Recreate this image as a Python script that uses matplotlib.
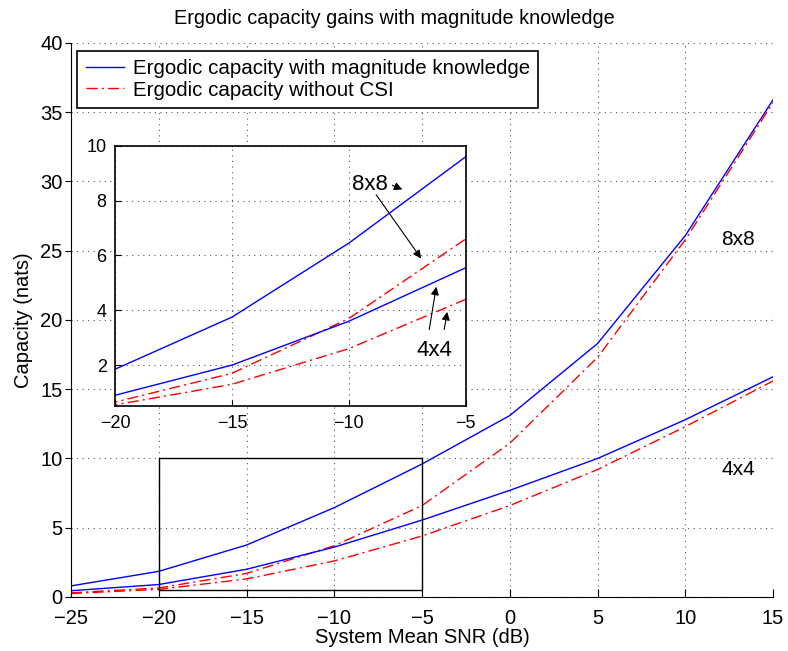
import matplotlib
matplotlib.use('Agg')
import matplotlib.pyplot as plt
import numpy as np

plt.rcParams['font.family'] = ['Liberation Sans', 'DejaVu Sans']

# SNR points (dB)
snr = [-25, -20, -15, -10, -5, 0, 5, 10, 15]
# 8x8 system
cap8_mag = [0.8, 1.85, 3.75, 6.45, 9.6, 13.1, 18.3, 26.1, 35.9]
cap8_nocsi = [0.3, 0.65, 1.7, 3.7, 6.6, 11.1, 17.3, 25.8, 35.7]
# 4x4 system
cap4_mag = [0.45, 0.9, 2.0, 3.6, 5.55, 7.7, 10.0, 12.8, 15.9]
cap4_nocsi = [0.25, 0.55, 1.3, 2.6, 4.4, 6.6, 9.2, 12.3, 15.6]

xticks = [-25, -20, -15, -10, -5, 0, 5, 10, 15]
yticks = [0, 5, 10, 15, 20, 25, 30, 35, 40]
inset_xticks = [-20, -15, -10, -5]
inset_yticks = [2, 4, 6, 8, 10]

dashdot = (0, (8, 3, 1.5, 3))
grid_ls = (0, (1, 4))

def minus(ticks):
    return [str(t).replace('-', '\u2212') for t in ticks]

fig = plt.figure(figsize=(7.88, 6.51), dpi=100)
ax = fig.add_axes([0.0901, 0.083, 0.891, 0.851])

ax.plot(snr, cap8_mag, color='blue', lw=1, label='Ergodic capacity with magnitude knowledge')
ax.plot(snr, cap8_nocsi, color='red', lw=1, linestyle=dashdot, label='Ergodic capacity without CSI')
ax.plot(snr, cap4_mag, color='blue', lw=1)
ax.plot(snr, cap4_nocsi, color='red', lw=1, linestyle=dashdot)
ax.set_xlim(-25, 15)
ax.set_ylim(0, 40)
ax.set_xticks(xticks)
ax.set_yticks(yticks)
ax.set_xticklabels(minus(xticks))
ax.tick_params(axis='x', direction='in', length=6, labelsize=14.5, pad=9)
ax.tick_params(axis='y', direction='out', length=4, labelsize=14.5, pad=2)
ax.grid(True, linestyle=grid_ls, color='0.35', linewidth=0.8)
ax.spines['top'].set_visible(False)
ax.spines['right'].set_visible(False)
ax.set_xlabel('System Mean SNR (dB)', fontsize=14.5, labelpad=0)
ax.set_ylabel('Capacity (nats)', fontsize=14.5, labelpad=5)
fig.text(0.5, 1 - 18 / 651, 'Ergodic capacity gains with magnitude knowledge',
         fontsize=14.3, ha='center', va='center')
ax.plot([-20, -5, -5, -20, -20], [0.5, 0.5, 10, 10, 0.5], color='black', lw=1)
ax.text(13.0, 25.8, '8x8', fontsize=15, ha='center', va='center')
ax.text(13.0, 9.2, '4x4', fontsize=15, ha='center', va='center')

leg = ax.legend(loc='upper left', fontsize=14.8, fancybox=False, edgecolor='black',
                framealpha=1, bbox_to_anchor=(0.009, 0.985), borderaxespad=0,
                handlelength=1.85, handletextpad=0.45, borderpad=0.4,
                labelspacing=0.1)
leg.get_frame().set_linewidth(1.2)

ins = fig.add_axes([0.146, 0.376, 0.445, 0.4])
ins.plot(snr, cap8_mag, color='blue', lw=1)
ins.plot(snr, cap8_nocsi, color='red', lw=1, linestyle=dashdot)
ins.plot(snr, cap4_mag, color='blue', lw=1)
ins.plot(snr, cap4_nocsi, color='red', lw=1, linestyle=dashdot)
ins.set_xlim(-20, -5)
ins.set_ylim(0.5, 10)
ins.set_xticks(inset_xticks)
ins.set_yticks(inset_yticks)
ins.set_xticklabels(minus(inset_xticks))
ins.tick_params(direction='in', length=4, labelsize=13, pad=6)
ins.grid(True, linestyle=grid_ls, color='0.35', linewidth=0.8)
for s in ins.spines.values():
    s.set_linewidth(1.2)

arrow = dict(arrowstyle='-|>', color='black', lw=0.8, mutation_scale=12)
ins.text(-9.1, 8.6, '8x8', fontsize=16, ha='center', va='center')
ins.annotate('', xy=(-7.6, 8.37), xytext=(-8.25, 8.6), arrowprops=arrow)
ins.annotate('', xy=(-6.84, 5.81), xytext=(-8.9, 8.3), arrowprops=arrow)
ins.text(-6.33, 2.55, '4x4', fontsize=16, ha='center', va='center')
ins.annotate('', xy=(-6.24, 4.96), xytext=(-6.58, 3.2), arrowprops=arrow)
ins.annotate('', xy=(-5.77, 4.04), xytext=(-5.94, 3.2), arrowprops=arrow)

fig.savefig('out.png', dpi=100)
